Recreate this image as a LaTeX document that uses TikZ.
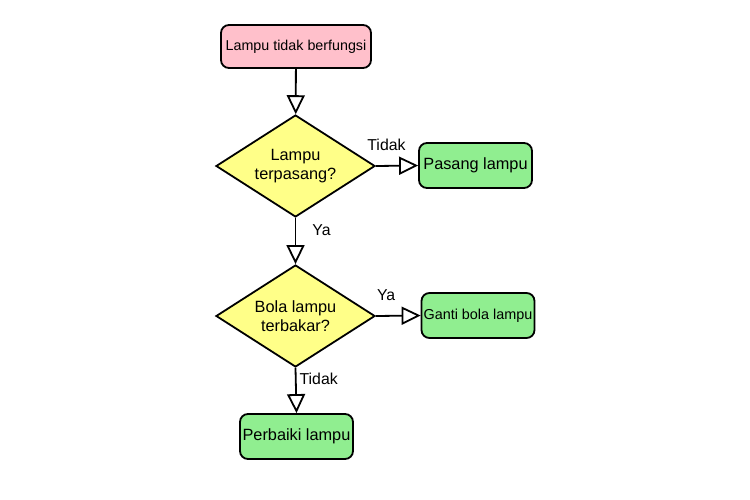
\documentclass[tikz,border=0pt]{standalone}
\usepackage{fontspec}
\setmainfont{Liberation Sans}
\usepackage{xcolor}
\usetikzlibrary{arrows.meta, shapes.geometric, positioning, calc}

\definecolor{startpink}{RGB}{255,192,203}
\definecolor{stepgreen}{RGB}{144,238,144}
\definecolor{askyellow}{RGB}{255,255,136}

\begin{document}
\begin{tikzpicture}[x=1pt, y=-1pt,
    box/.style={draw, line width=1.8pt, rounded corners=8pt, minimum width=113pt, minimum height=45pt, inner sep=0pt, font=\fontsize{16.3}{19.5}\selectfont},
    ask/.style={draw, line width=1.8pt, diamond, aspect=1.56, fill=askyellow, minimum width=159pt, minimum height=102pt, inner sep=0pt, align=center, font=\fontsize{16.3}{19.5}\selectfont},
    flow/.style={line width=1.8pt, -{Triangle[open, length=19pt, width=18pt]}},
    lbl/.style={inner sep=0pt, font=\fontsize{15.8}{19}\selectfont}]
      \useasboundingbox (0, 0) rectangle (750, 500);

      \node[box, fill=startpink, minimum width=150pt, minimum height=43pt, font=\fontsize{14.3}{17}\selectfont] (start) at (296, 46.5) {Lampu tidak berfungsi};
      \node[ask] (q1) at (295.5, 166) {Lampu\\terpasang?};
      \node[box, fill=stepgreen] (pasang) at (475.5, 165.5) {Pasang lampu};
      \node[ask] (q2) at (295.5, 316) {Bola lampu\\terbakar?};
      \node[box, fill=stepgreen, font=\fontsize{14.4}{17}\selectfont] (ganti) at (478, 315.5) {Ganti bola lampu};
      \node[box, fill=stepgreen] (perbaiki) at (296.5, 436.5) {Perbaiki lampu};

      \draw[flow] (start) -- (q1);
      \draw[flow] (q1.east) -- (pasang.west) node[lbl, pos=0.25, above=14pt] (tidak1) {Tidak};
      \draw[flow] (q1.south) -- (q2.north) node[lbl, pos=0.27, right=16pt] (ya1) {Ya};
      \draw[flow] (q2.east) -- (ganti.west) node[lbl, pos=0.23, above=14pt] (ya2) {Ya};
      \draw[flow] (q2.south) -- (perbaiki.north) node[lbl, pos=0.245, right=3pt] (tidak2) {Tidak};
    \end{tikzpicture}
\end{document}
